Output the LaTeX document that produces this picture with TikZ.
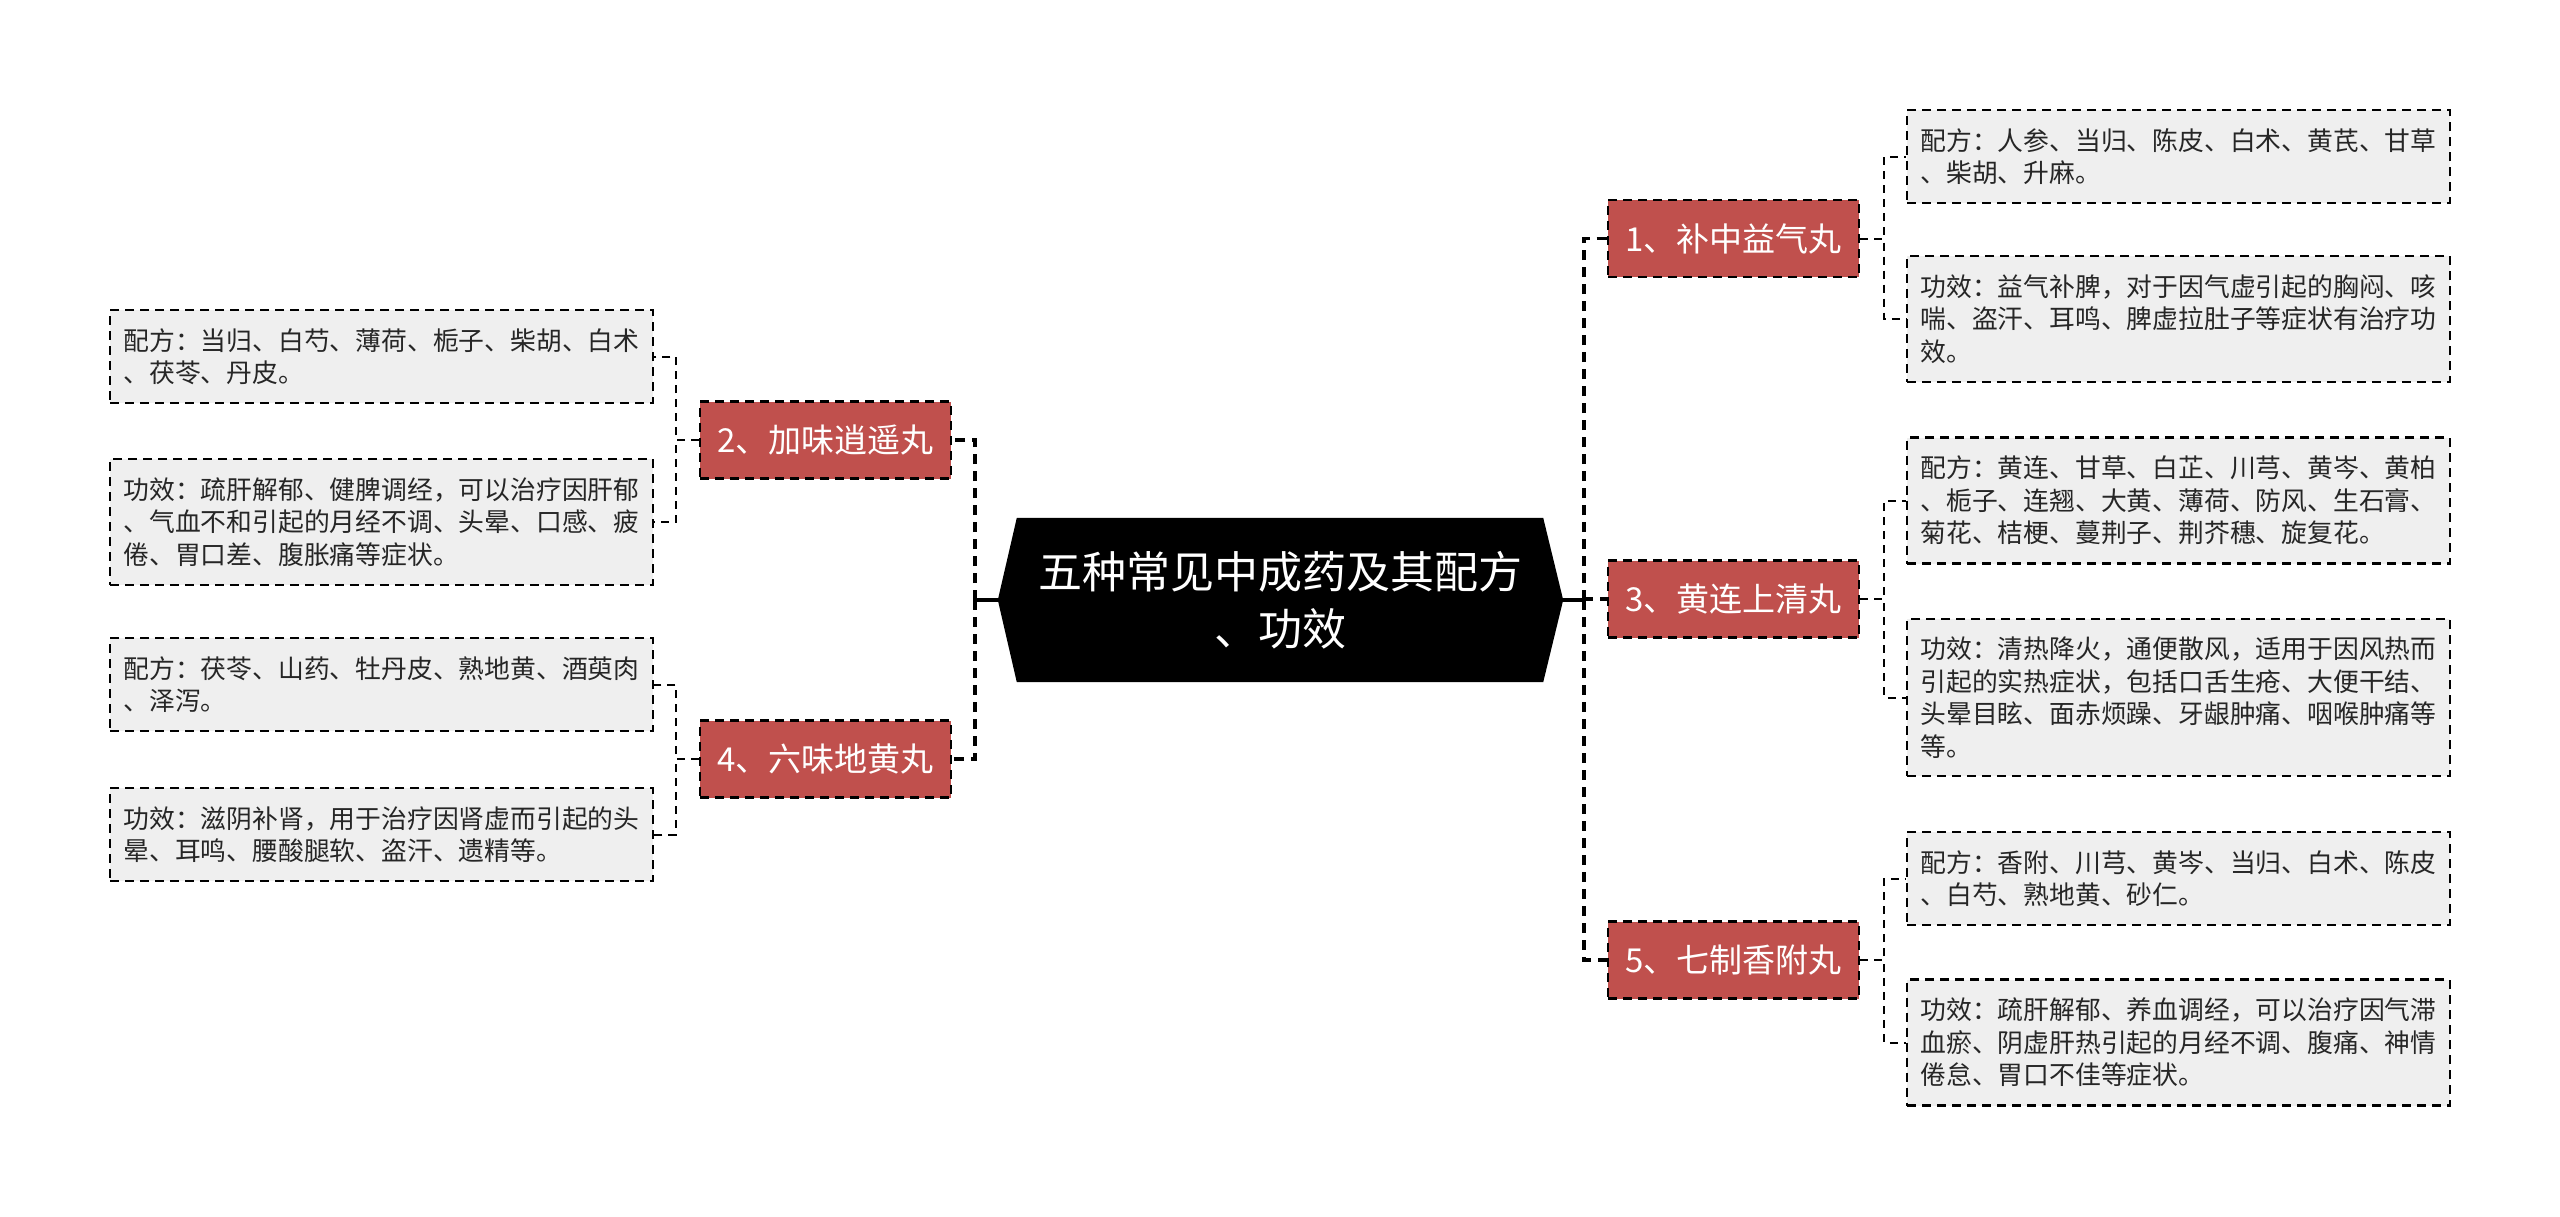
\documentclass[tikz,border=0pt]{standalone}
\usepackage{fontspec}
\setmainfont{Noto Sans CJK SC}
\usetikzlibrary{backgrounds}
\definecolor{redbox}{HTML}{C0504D}
\definecolor{greybox}{HTML}{EFEFEF}
\definecolor{txt}{HTML}{262626}
\tikzset{
 redn/.style={draw=black, line width=2.5pt, dash pattern=on 9pt off 6pt, fill=redbox, text=white, minimum width=251pt, minimum height=77pt, inner sep=0pt, font=\fontsize{33}{40}\selectfont},
 greyn/.style={draw=black, line width=2.2pt, dash pattern=on 9pt off 6pt, fill=greybox, text=txt, text width=516pt, inner xsep=13.5pt, inner ysep=0pt, align=left, font=\fontsize{25.8}{32.5}\selectfont},
 gtwo/.style={greyn, minimum height=93pt},
 gthree/.style={greyn, minimum height=126pt},
 gfour/.style={greyn, minimum height=157pt},
 mainconn/.style={draw=black, line width=3.5pt, dash pattern=on 10pt off 7pt},
 subconn/.style={draw=black, line width=2pt, dash pattern=on 8pt off 6pt},
}
\begin{document}
\begin{tikzpicture}[x=1pt,y=-1pt]
\useasboundingbox (0,0) rectangle (2560,1216);
% central node
\node[text=white, align=center, font=\fontsize{44}{57}\selectfont, minimum width=526pt, minimum height=164pt, inner sep=0pt] (c) at (1280,600) {五种常见中成药及其配方\\、功效};
\coordinate (cR) at ([xshift=20pt]c.east);
\coordinate (cL) at ([xshift=-19pt]c.west);
\begin{scope}[on background layer]
\fill[white] (0,0) rectangle (2560,1216);
\fill[black] (c.north west) -- (c.north east) -- (cR) -- (c.south east) -- (c.south west) -- (cL) -- cycle;
\end{scope}
% main branches
\node[redn] (r1) at (1733.5,238.5) {1、补中益气丸};
\node[redn] (r3) at (1733.5,599) {3、黄连上清丸};
\node[redn] (r5) at (1733.5,960) {5、七制香附丸};
\node[redn] (l2) at (825.5,440) {2、加味逍遥丸};
\node[redn] (l4) at (825.5,759) {4、六味地黄丸};
% leaves right
\node[gtwo] (r1a) at (2178.5,156.5) {配方：人参、当归、陈皮、白术、黄芪、甘草\\、柴胡、升麻。};
\node[gthree] (r1b) at (2178.5,319) {功效：益气补脾，对于因气虚引起的胸闷、咳\\喘、盗汗、耳鸣、脾虚拉肚子等症状有治疗功\\效。};
\node[gthree] (r3a) at (2178.5,500.5) {配方：黄连、甘草、白芷、川芎、黄岑、黄柏\\、栀子、连翘、大黄、薄荷、防风、生石膏、\\菊花、桔梗、蔓荆子、荆芥穗、旋复花。};
\node[gfour] (r3b) at (2178.5,697.5) {功效：清热降火，通便散风，适用于因风热而\\引起的实热症状，包括口舌生疮、大便干结、\\头晕目眩、面赤烦躁、牙龈肿痛、咽喉肿痛等\\等。};
\node[gtwo] (r5a) at (2178.5,878.5) {配方：香附、川芎、黄岑、当归、白术、陈皮\\、白芍、熟地黄、砂仁。};
\node[gthree] (r5b) at (2178.5,1042.5) {功效：疏肝解郁、养血调经，可以治疗因气滞\\血瘀、阴虚肝热引起的月经不调、腹痛、神情\\倦怠、胃口不佳等症状。};
% leaves left
\node[gtwo] (l2a) at (381.5,356.5) {配方：当归、白芍、薄荷、栀子、柴胡、白术\\、茯苓、丹皮。};
\node[gthree] (l2b) at (381.5,522) {功效：疏肝解郁、健脾调经，可以治疗因肝郁\\、气血不和引起的月经不调、头晕、口感、疲\\倦、胃口差、腹胀痛等症状。};
\node[gtwo] (l4a) at (381.5,684.5) {配方：茯苓、山药、牡丹皮、熟地黄、酒萸肉\\、泽泻。};
\node[gtwo] (l4b) at (381.5,834.5) {功效：滋阴补肾，用于治疗因肾虚而引起的头\\晕、耳鸣、腰酸腿软、盗汗、遗精等。};
% main connectors
\coordinate (jR) at (1584,600);
\coordinate (jL) at (975,600);
\draw[black, line width=3.5pt] (cR) -- (jR);
\draw[black, line width=3.5pt] (cL) -- (jL);
\draw[mainconn] (jR) |- (r1.west);
\draw[mainconn] (jR) |- (r3.west);
\draw[mainconn] (jR) |- (r5.west);
\draw[mainconn] (jL) |- (l2.east);
\draw[mainconn] (jL) |- (l4.east);
% sub connectors
\draw[subconn] (r1.east) -- ++(24,0) |- (r1a.west);
\draw[subconn] (r1.east) -- ++(24,0) |- (r1b.west);
\draw[subconn] (r3.east) -- ++(24,0) |- (r3a.west);
\draw[subconn] (r3.east) -- ++(24,0) |- (r3b.west);
\draw[subconn] (r5.east) -- ++(24,0) |- (r5a.west);
\draw[subconn] (r5.east) -- ++(24,0) |- (r5b.west);
\draw[subconn] (l2.west) -- ++(-23,0) |- (l2a.east);
\draw[subconn] (l2.west) -- ++(-23,0) |- (l2b.east);
\draw[subconn] (l4.west) -- ++(-23,0) |- (l4a.east);
\draw[subconn] (l4.west) -- ++(-23,0) |- (l4b.east);
\end{tikzpicture}
\end{document}
